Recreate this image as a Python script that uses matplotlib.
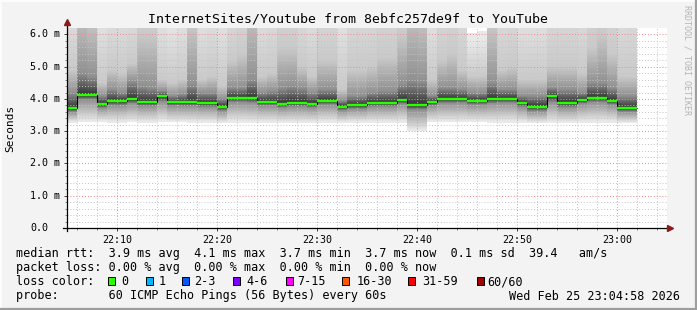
import numpy as np
import matplotlib
matplotlib.use("Agg")
import matplotlib.pyplot as plt
from matplotlib.patches import Rectangle
from matplotlib.lines import Line2D
import matplotlib.transforms as mtransforms

# ---------------- data ----------------
title = "InternetSites/Youtube from 8ebfc257de9f to YouTube"
start_minute = 5          # first sample at 22:05, one sample per minute
# median RTT per minute (ms)
median_ms = [3.71, 4.12, 4.12, 3.84, 3.93, 3.93, 3.99, 3.90, 3.90, 4.08,
             3.90, 3.90, 3.90, 3.87, 3.87, 3.75, 4.03, 4.03, 4.03, 3.91,
             3.91, 3.85, 3.88, 3.88, 3.85, 3.94, 3.94, 3.76, 3.81, 3.81,
             3.88, 3.88, 3.88, 3.97, 3.81, 3.81, 3.91, 4.00, 4.00, 4.00,
             3.94, 3.94, 4.00, 4.00, 4.00, 3.88, 3.76, 3.76, 4.09, 3.88,
             3.88, 3.97, 4.03, 4.03, 3.94, 3.72, 3.72]
# smoke: minimum ping per minute (ms)
min_ms = [3.27, 3.28, 3.28, 3.30, 3.27, 3.27, 3.28, 3.27, 3.27, 3.30,
          3.28, 3.28, 3.27, 3.27, 3.27, 3.25, 3.27, 3.27, 3.26, 3.27,
          3.27, 3.26, 3.26, 3.26, 3.26, 3.27, 3.27, 3.26, 3.27, 3.27,
          3.27, 3.27, 3.27, 3.27, 3.00, 3.00, 3.28, 3.28, 3.28, 3.28,
          3.28, 3.28, 3.27, 3.27, 3.27, 3.27, 3.25, 3.25, 3.25, 3.26,
          3.26, 3.27, 3.27, 3.27, 3.27, 3.25, 3.25]
# 25th percentile
p25_ms = [3.60, 3.98, 3.98, 3.72, 3.80, 3.80, 3.86, 3.78, 3.78, 3.92,
          3.78, 3.78, 3.78, 3.75, 3.75, 3.63, 3.90, 3.90, 3.88, 3.79,
          3.79, 3.73, 3.76, 3.76, 3.73, 3.82, 3.82, 3.64, 3.69, 3.69,
          3.76, 3.76, 3.76, 3.84, 3.66, 3.66, 3.79, 3.87, 3.87, 3.88,
          3.82, 3.82, 3.86, 3.88, 3.88, 3.75, 3.62, 3.62, 3.90, 3.74,
          3.74, 3.85, 3.90, 3.90, 3.82, 3.60, 3.60]
# 75th percentile
p75_ms = [4.20, 4.80, 4.70, 4.10, 4.30, 4.20, 4.55, 4.40, 4.35, 4.25,
          4.10, 4.15, 4.45, 4.20, 4.20, 4.00, 4.35, 4.35, 4.60, 4.20,
          4.25, 4.35, 4.40, 4.35, 4.20, 4.30, 4.30, 3.95, 4.10, 4.10,
          4.20, 4.25, 4.25, 4.45, 4.60, 4.55, 4.10, 4.35, 4.35, 4.30,
          4.20, 4.20, 4.50, 4.30, 4.30, 4.10, 4.10, 4.10, 4.35, 4.30,
          4.30, 4.20, 4.50, 4.50, 4.35, 4.10, 4.10]
# 90th percentile
p90_ms = [4.90, 6.80, 6.50, 4.50, 4.90, 4.80, 5.10, 6.00, 6.00, 4.60,
          4.50, 4.60, 6.30, 4.60, 4.70, 4.40, 5.20, 5.40, 6.80, 4.70,
          4.80, 5.60, 5.60, 5.00, 4.70, 5.20, 5.20, 4.30, 4.90, 4.90,
          5.00, 5.30, 5.30, 6.00, 6.80, 6.60, 4.60, 5.20, 5.40, 4.90,
          4.70, 4.70, 6.30, 4.90, 5.00, 4.60, 4.60, 4.60, 5.00, 5.00,
          5.00, 4.80, 5.60, 6.00, 5.40, 4.70, 4.70]
# maximum ping
max_ms = [8.0, 12.0, 11.0, 7.5, 8.0, 8.0, 8.0, 10.0, 10.0, 7.5,
          7.0, 7.5, 11.0, 7.5, 8.0, 7.5, 8.5, 9.0, 12.0, 8.0,
          8.5, 9.5, 9.5, 8.5, 8.0, 9.0, 9.0, 7.5, 9.0, 9.0,
          9.0, 9.5, 9.5, 10.0, 12.0, 12.0, 7.5, 9.0, 9.5, 8.5,
          6.05, 6.10, 11.0, 8.5, 9.0, 7.5, 7.5, 7.5, 9.0, 9.0,
          9.0, 8.5, 10.0, 10.0, 9.5, 8.5, 9.0]

y_ticks = [0, 1, 2, 3, 4, 5, 6]
y_tick_labels = ["0.0", "1.0 m", "2.0 m", "3.0 m", "4.0 m", "5.0 m", "6.0 m"]
x_ticks = [10, 20, 30, 40, 50, 60]
x_tick_labels = ["22:10", "22:20", "22:30", "22:40", "22:50", "23:00"]

legend_lines = [
    "median rtt:  3.9 ms avg  4.1 ms max  3.7 ms min  3.7 ms now  0.1 ms sd  39.4   am/s",
    "packet loss: 0.00 % avg  0.00 % max  0.00 % min  0.00 % now",
    "loss color:",
    "probe:       60 ICMP Echo Pings (56 Bytes) every 60s",
]
loss_labels = ["0", "1", "2-3", "4-6", "7-15", "16-30", "31-59", "60/60"]
loss_colors = ["#26ff00", "#00b8ff", "#0059ff", "#7e00ff", "#ff00ff",
               "#ff5500", "#ff0000", "#a10000"]
stamp = "Wed Feb 25 23:04:58 2026"

# ---------------- layout ----------------
W, H = 697, 310
MONO = "DejaVu Sans Mono"
plt.rcParams["font.family"] = [MONO, "DejaVu Sans"]

def fx(x):
    return x / W

def fy(y):
    return 1 - y / H

fig = plt.figure(figsize=(W / 100, H / 100), dpi=100, facecolor="#f3f3f3")

# frame shading
fig.add_artist(Line2D([0, 1], [fy(0.5), fy(0.5)], transform=fig.transFigure, color="#fdfdfd", lw=1.4))
fig.add_artist(Line2D([fx(0.5), fx(0.5)], [0, 1], transform=fig.transFigure, color="#fdfdfd", lw=1.4))
fig.add_artist(Line2D([0, 1], [fy(308.5), fy(308.5)], transform=fig.transFigure, color="#9e9e9e", lw=1.6))
fig.add_artist(Line2D([fx(695.5), fx(695.5)], [0, 1], transform=fig.transFigure, color="#9e9e9e", lw=1.6))

ax = fig.add_axes([fx(67), fy(228), 600 / W, 200 / H])
ax.set_facecolor("white")
ymax = 6.2
ax.set_xlim(5, 65)
ax.set_ylim(0, ymax)
for s in ax.spines.values():
    s.set_visible(False)

# ---------------- smoke ----------------
n = len(median_ms)
edges = start_minute + np.arange(n + 1)
ny = 1240
yc = (np.arange(ny) + 0.5) * ymax / ny
img = np.zeros((ny, n, 4))
for i in range(n):
    q = [min_ms[i], p25_ms[i], median_ms[i], p75_ms[i], p90_ms[i], max_ms[i]]
    r = np.interp(yc, q, [0, 0.25, 0.5, 0.75, 0.9, 1.0])
    c = (50 + 190 * np.minimum(np.abs(2 * r - 1), 29 / 30)) / 255.0
    inside = (yc >= q[0]) & (yc <= q[-1])
    img[:, i, 0] = c
    img[:, i, 1] = c
    img[:, i, 2] = c
    img[:, i, 3] = inside.astype(float)
ax.imshow(img, extent=[edges[0], edges[-1], 0, ymax], origin="lower",
          aspect="auto", interpolation="nearest", zorder=1)

# ---------------- grid ----------------
dots = (0, (1, 2))
for m in np.arange(6, 65, 2):
    if m % 10:
        ax.axvline(m, color="#c4c4c4", lw=0.7, ls=dots, zorder=2)
for v in np.arange(0.2, ymax, 0.2):
    if abs(v - round(v)) > 1e-6:
        ax.axhline(v, color="#c4c4c4", lw=0.7, ls=dots, zorder=2)
for m in x_ticks:
    ax.axvline(m, color="#f08a8a", lw=0.7, ls=dots, zorder=2)
for v in y_ticks[1:]:
    ax.axhline(v, color="#f08a8a", lw=0.7, ls=dots, zorder=2)

# ---------------- median ----------------
ax.stairs(median_ms, edges, color="black", lw=0.8, zorder=3, baseline=None)
ax.hlines(median_ms, edges[:-1], edges[1:], color=loss_colors[0], lw=1.7, zorder=4)

# ---------------- axes lines / arrows ----------------
ax.add_line(Line2D([4.6, 65.2], [0, 0], color="black", lw=0.9, clip_on=False, zorder=5))
ax.add_line(Line2D([5, 5], [-0.1, 6.35], color="black", lw=0.9, clip_on=False, zorder=5))
ax.plot([5], [6.38], marker="^", color="#8b1a1a", ms=4.5, clip_on=False, zorder=6)
ax.plot([65.3], [0], marker=">", color="#8b1a1a", ms=4.5, clip_on=False, zorder=6)

ax.set_yticks(y_ticks)
ax.set_yticks(np.arange(0, ymax, 0.2), minor=True)
ax.set_xticks(x_ticks)
ax.set_xticks(np.arange(6, 65, 2), minor=True)
ax.set_yticklabels([])
ax.set_xticklabels(x_tick_labels, fontsize=7.2, family=MONO)
ax.tick_params(axis="both", which="major", direction="out", length=2.5, width=0.7,
               color="#404040", pad=2.5)
ax.tick_params(axis="both", which="minor", direction="out", length=1.6, width=0.6,
               color="#707070")

ytr = mtransforms.blended_transform_factory(fig.transFigure, ax.transData)
for v, lab in zip(y_ticks, y_tick_labels):
    fig.text(fx(30), v, lab, transform=ytr, fontsize=7.2, family=MONO,
             ha="left", va="center")

# ---------------- texts ----------------
fig.text(fx(347.5), fy(19), title, fontsize=9.5, family=MONO, ha="center", va="center")
fig.text(fx(10), fy(128), "Seconds", fontsize=8, family=MONO, rotation=90,
         ha="center", va="center")
fig.text(fx(687), fy(5), "RRDTOOL / TOBI OETIKER", fontsize=6, family=MONO,
         rotation=270, ha="center", va="top", color="#b4b4b4")

baselines = [257.3, 271.4, 285.3, 299.5]
for line, b in zip(legend_lines, baselines):
    fig.text(fx(16), fy(b), line, fontsize=8.5, family=MONO, ha="left", va="baseline")

box_x = [108.3, 145.7, 182.3, 233.3, 285.7, 341.7, 407.7, 476.7]
lab_x = [121.7, 158.3, 194.3, 246.0, 297.7, 356.7, 422.3, 487.7]
for bx, lx, lab, col in zip(box_x, lab_x, loss_labels, loss_colors):
    fig.patches.append(Rectangle((fx(bx), fy(285.3)), 7 / W, 8 / H,
                                 transform=fig.transFigure, facecolor=col,
                                 edgecolor="black", lw=0.7))
    fig.text(fx(lx), fy(285.3), lab, fontsize=8.5, family=MONO, ha="left", va="baseline")

fig.text(fx(680), fy(299.5), stamp, fontsize=8.5, family=MONO, ha="right", va="baseline")

fig.savefig("out.png", dpi=100, facecolor=fig.get_facecolor())
